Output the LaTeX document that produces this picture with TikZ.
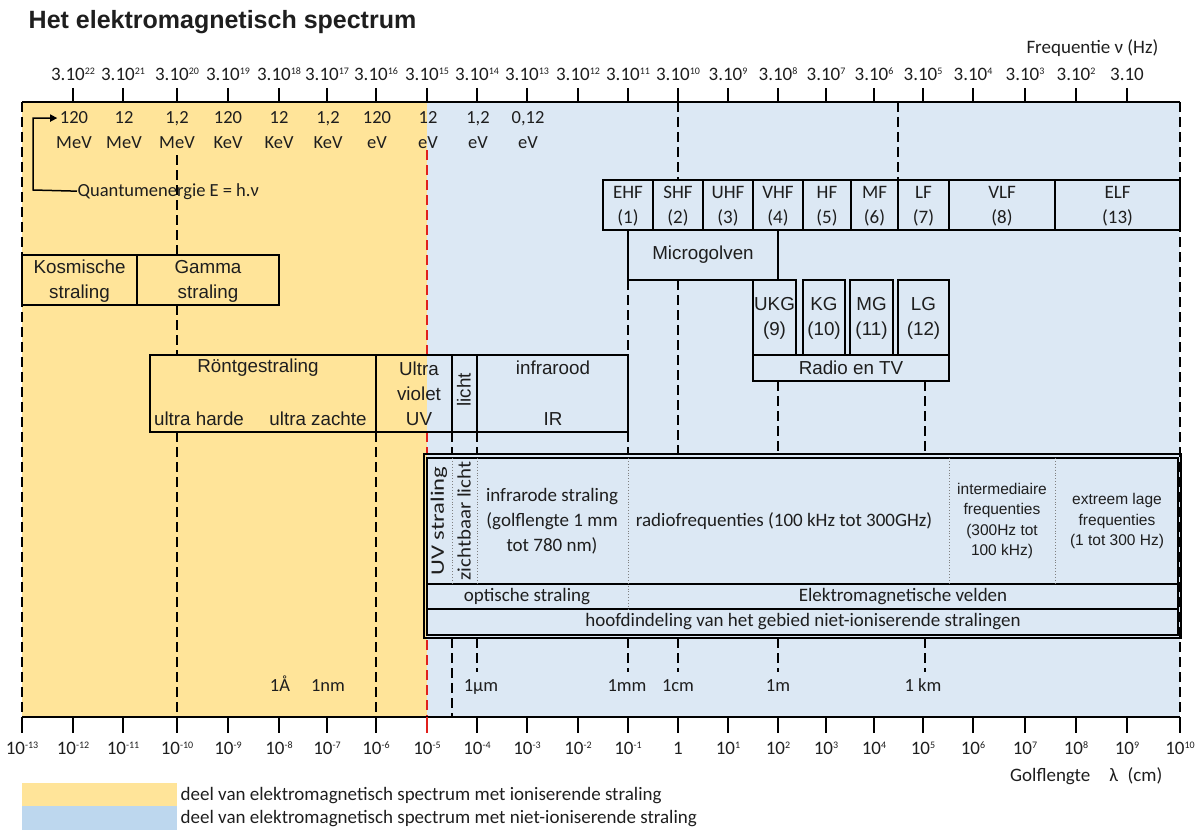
\documentclass[tikz,border=0pt]{standalone}
\usepackage{fontspec}
\usepackage{graphicx}
\usetikzlibrary{arrows.meta}
\setmainfont{Carlito}
\newfontfamily\arialfont{Liberation Sans}
\definecolor{ionyellow}{HTML}{FFE499}
\definecolor{nonblue}{HTML}{DCE8F4}
\definecolor{legblue}{HTML}{BDD7EE}
\definecolor{inkgray}{HTML}{1E1E1E}
\definecolor{redline}{HTML}{E0201C}
\newcommand\pw[1]{\raisebox{6pt}{\fontsize{10}{10}\selectfont #1}}

\tikzset{
	lab/.style={font=\fontsize{19}{25}\selectfont, align=center},
	nrg/.style={font=\fontsize{18.5}{24}\selectfont, anchor=base},
	axl/.style={font=\fontsize{19}{22}\selectfont, anchor=base},
	arl/.style={font=\arialfont\fontsize{18.8}{25}\selectfont, align=center},
	sml/.style={font=\arialfont\fontsize{15.5}{20.5}\selectfont, align=center},
	dsh/.style={dash pattern=on 10pt off 5pt, line width=1.3pt},
	bandbox/.style={line width=1.4pt},
}

\begin{document}
\begin{tikzpicture}[x=1pt, y=-1pt, line width=1.4pt, every node/.style={inner sep=0pt, text=inkgray}]
		
		\useasboundingbox (0,0) rectangle (1196,832);
		
		\fill[ionyellow] (22,102) rectangle (427,717);
		\fill[nonblue] (427,102) rectangle (1180,717);
		
		\node[anchor=west, font=\arialfont\bfseries\fontsize{25}{28}\selectfont] (title) at (28,22) {Het elektromagnetisch spectrum};
		\node[axl, anchor=base east] (freq) at (1159,54) {Frequentie ν (Hz)};
		\node[axl, anchor=base east] (golf) at (1163,781) {Golflengte\quad λ\enspace(cm)};
		
		% dashed guides
		\draw[dsh] (22,102) -- (22,717);
		\draw[dsh] (1180,102) -- (1180,717);
		\draw[dsh] (177,155) -- (177,255);
		\draw[dsh] (177,305) -- (177,355);
		\draw[dsh] (177,432) -- (177,717);
		\draw[dsh] (376,432) -- (376,717);
		\draw[dsh, redline] (427,150) -- (427,355);
		\draw[dsh, redline] (427,432) -- (427,453);
		\draw[dsh, redline] (427,640) -- (427,717);
		\draw[dsh] (452,432) -- (452,454);
		\draw[dsh] (452,638) -- (452,717);
		\draw[dsh] (477,432) -- (477,454);
		\draw[dsh] (477,638) -- (477,672);
		\draw[dsh] (628,280) -- (628,355);
		\draw[dsh] (628,432) -- (628,454);
		\draw[dsh] (628,638) -- (628,672);
		\draw[dsh] (678,102) -- (678,180);
		\draw[dsh] (678,280) -- (678,454);
		\draw[dsh] (678,638) -- (678,672);
		\draw[dsh] (778,381) -- (778,454);
		\draw[dsh] (778,638) -- (778,672);
		\draw[dsh] (898,102) -- (898,180);
		\draw[dsh] (925,381) -- (925,454);
		\draw[dsh] (925,638) -- (925,672);
		
		% frequency axis
		\draw (22,102) -- (1180,102);
		\draw (73,88) -- (73,102);
		\draw (123,88) -- (123,102);
		\draw (177,88) -- (177,102);
		\draw (228,88) -- (228,102);
		\draw (279,88) -- (279,102);
		\draw (327,88) -- (327,102);
		\draw (376,88) -- (376,102);
		\draw (427,88) -- (427,102);
		\draw (477,88) -- (477,102);
		\draw (527,88) -- (527,102);
		\draw (578,88) -- (578,102);
		\draw (628,88) -- (628,102);
		\draw (678,88) -- (678,102);
		\draw (728,88) -- (728,102);
		\draw (778,88) -- (778,102);
		\draw (826,88) -- (826,102);
		\draw (874,88) -- (874,102);
		\draw (923,88) -- (923,102);
		\draw (973,88) -- (973,102);
		\draw (1025,88) -- (1025,102);
		\draw (1076,88) -- (1076,102);
		\draw (1127,88) -- (1127,102);
		
		\node[axl] (f22) at (73,81) {3.10\pw{22}};
		\node[axl] (f21) at (123,81) {3.10\pw{21}};
		\node[axl] (f20) at (177,81) {3.10\pw{20}};
		\node[axl] (f19) at (228,81) {3.10\pw{19}};
		\node[axl] (f18) at (279,81) {3.10\pw{18}};
		\node[axl] (f17) at (327,81) {3.10\pw{17}};
		\node[axl] (f16) at (376,81) {3.10\pw{16}};
		\node[axl] (f15) at (427,81) {3.10\pw{15}};
		\node[axl] (f14) at (477,81) {3.10\pw{14}};
		\node[axl] (f13) at (527,81) {3.10\pw{13}};
		\node[axl] (f12) at (578,81) {3.10\pw{12}};
		\node[axl] (f11) at (628,81) {3.10\pw{11}};
		\node[axl] (f10) at (678,81) {3.10\pw{10}};
		\node[axl] (f9) at (728,81) {3.10\pw{9}};
		\node[axl] (f8) at (778,81) {3.10\pw{8}};
		\node[axl] (f7) at (826,81) {3.10\pw{7}};
		\node[axl] (f6) at (874,81) {3.10\pw{6}};
		\node[axl] (f5) at (923,81) {3.10\pw{5}};
		\node[axl] (f4) at (973,81) {3.10\pw{4}};
		\node[axl] (f3) at (1025,81) {3.10\pw{3}};
		\node[axl] (f2) at (1076,81) {3.10\pw{2}};
		\node[axl] (f1) at (1127,81) {3.10};
		
		% wavelength axis
		\draw (22,717) -- (1180,717);
		\draw (22,717) -- (22,733);
		\draw (73,717) -- (73,733);
		\draw (123,717) -- (123,733);
		\draw (177,717) -- (177,733);
		\draw (228,717) -- (228,733);
		\draw (279,717) -- (279,733);
		\draw (327,717) -- (327,733);
		\draw (376,717) -- (376,733);
		\draw[redline] (427,717) -- (427,733);
		\draw (477,717) -- (477,733);
		\draw (527,717) -- (527,733);
		\draw (578,717) -- (578,733);
		\draw (628,717) -- (628,733);
		\draw (678,717) -- (678,733);
		\draw (728,717) -- (728,733);
		\draw (778,717) -- (778,733);
		\draw (826,717) -- (826,733);
		\draw (874,717) -- (874,733);
		\draw (923,717) -- (923,733);
		\draw (973,717) -- (973,733);
		\draw (1025,717) -- (1025,733);
		\draw (1076,717) -- (1076,733);
		\draw (1127,717) -- (1127,733);
		\draw (1180,717) -- (1180,733);
		
		\node[axl] (w13) at (22,754) {10\pw{-13}};
		\node[axl] (w12) at (73,754) {10\pw{-12}};
		\node[axl] (w11) at (123,754) {10\pw{-11}};
		\node[axl] (w10) at (177,754) {10\pw{-10}};
		\node[axl] (w9) at (228,754) {10\pw{-9}};
		\node[axl] (w8) at (279,754) {10\pw{-8}};
		\node[axl] (w7) at (327,754) {10\pw{-7}};
		\node[axl] (w6) at (376,754) {10\pw{-6}};
		\node[axl] (w5) at (427,754) {10\pw{-5}};
		\node[axl] (w4) at (477,754) {10\pw{-4}};
		\node[axl] (w3) at (527,754) {10\pw{-3}};
		\node[axl] (w2) at (578,754) {10\pw{-2}};
		\node[axl] (w1) at (628,754) {10\pw{-1}};
		\node[axl] (p0) at (678,754) {1};
		\node[axl] (p1) at (728,754) {10\pw{1}};
		\node[axl] (p2) at (778,754) {10\pw{2}};
		\node[axl] (p3) at (826,754) {10\pw{3}};
		\node[axl] (p4) at (874,754) {10\pw{4}};
		\node[axl] (p5) at (923,754) {10\pw{5}};
		\node[axl] (p6) at (973,754) {10\pw{6}};
		\node[axl] (p7) at (1025,754) {10\pw{7}};
		\node[axl] (p8) at (1076,754) {10\pw{8}};
		\node[axl] (p9) at (1127,754) {10\pw{9}};
		\node[axl] (p10) at (1180,754) {10\pw{10}};
		
		% quantum energies
		\node[nrg] (e1) at (74,124) {120};
		\node[nrg] (e2) at (124,124) {12};
		\node[nrg] (e3) at (177,124) {1,2};
		\node[nrg] (e4) at (228,124) {120};
		\node[nrg] (e5) at (279,124) {12};
		\node[nrg] (e6) at (328,124) {1,2};
		\node[nrg] (e7) at (377,124) {120};
		\node[nrg] (e8) at (428,124) {12};
		\node[nrg] (e9) at (478,124) {1,2};
		\node[nrg] (e10) at (528,124) {0,12};
		\node[nrg] (u1) at (74,149) {MeV};
		\node[nrg] (u2) at (124,149) {MeV};
		\node[nrg] (u3) at (177,149) {MeV};
		\node[nrg] (u4) at (228,149) {KeV};
		\node[nrg] (u5) at (279,149) {KeV};
		\node[nrg] (u6) at (328,149) {KeV};
		\node[nrg] (u7) at (377,149) {eV};
		\node[nrg] (u8) at (428,149) {eV};
		\node[nrg] (u9) at (478,149) {eV};
		\node[nrg] (u10) at (528,149) {eV};
		
		\node[nrg, anchor=base west] (qe) at (77,196) {Quantumenergie E = h.ν};
		\draw[-{Triangle[length=7pt,width=7pt]}, line width=1.5pt, shorten >=2pt] (qe.west) -- (33,190) |- (e1.west);
		
		% ionising groups
		\draw[bandbox] (22,255) rectangle (279,305);
		\draw[bandbox] (137,255) -- (137,305);
		\node[arl] (kos) at (79.5,281) {Kosmische\\straling};
		\node[arl] (gam) at (208,281) {Gamma\\straling};
		
		\draw[bandbox] (150,355) rectangle (628,432);
		\draw[bandbox] (376,355) -- (376,432);
		\draw[bandbox] (452,355) -- (452,432);
		\draw[bandbox] (477,355) -- (477,432);
		\node[arl] (ront) at (258,368) {Röntgestraling};
		\node[arl] (hard) at (199,419) {ultra harde};
		\node[arl] (zacht) at (318,419) {ultra zachte};
		\node[arl] (uv) at (419,394) {Ultra\\violet\\UV};
		\node[arl, rotate=90] (licht) at (464,390) {licht};
		\node[arl] (ir) at (553,368) {infrarood};
		\node[arl] (irb) at (553,419) {IR};
		
		% frequency bands
		\draw[bandbox] (603,180) rectangle (1180,230);
		\draw[bandbox] (653,180) -- (653,230);
		\draw[bandbox] (703,180) -- (703,230);
		\draw[bandbox] (753,180) -- (753,230);
		\draw[bandbox] (803,180) -- (803,230);
		\draw[bandbox] (851,180) -- (851,230);
		\draw[bandbox] (898,180) -- (898,230);
		\draw[bandbox] (949,180) -- (949,230);
		\draw[bandbox] (1055,180) -- (1055,230);
		\node[lab] (ehf) at (628,206) {EHF\\(1)};
		\node[lab] (shf) at (678,206) {SHF\\(2)};
		\node[lab] (uhf) at (728,206) {UHF\\(3)};
		\node[lab] (vhf) at (778,206) {VHF\\(4)};
		\node[lab] (hf) at (827,206) {HF\\(5)};
		\node[lab] (mf) at (874.5,206) {MF\\(6)};
		\node[lab] (lf) at (923.5,206) {LF\\(7)};
		\node[lab] (vlf) at (1002,206) {VLF\\(8)};
		\node[lab] (elf) at (1117.5,206) {ELF\\(13)};
		
		\draw[bandbox] (628,230) rectangle (778,280);
		\node[arl] (micro) at (703,255) {Microgolven};
		
		\draw[bandbox] (753,280) rectangle (796,355);
		\draw[bandbox] (803,280) rectangle (845,355);
		\draw[bandbox] (850,280) rectangle (893,355);
		\draw[bandbox] (898,280) rectangle (949,355);
		\draw[bandbox] (753,355) rectangle (949,381);
		\node[arl] (ukg) at (774.5,318) {UKG\\(9)};
		\node[arl] (kg) at (824,318) {KG\\(10)};
		\node[arl] (mg) at (871.5,318) {MG\\(11)};
		\node[arl] (lg) at (923.5,318) {LG\\(12)};
		\node[arl] (radio) at (851,368) {Radio en TV};
		
		% non-ionising overview
		\draw[line width=1.2pt] (424,454) rectangle (1181,638);
		\draw[line width=1.2pt] (427,458) rectangle (1178,635);
		\draw[line width=1.2pt] (427,584) -- (1178,584);
		\draw[line width=1.2pt] (427,609) -- (1178,609);
		\draw[dotted, line width=0.9pt, gray] (452,458) -- (452,584);
		\draw[dotted, line width=0.9pt, gray] (477,458) -- (477,584);
		\draw[dotted, line width=0.9pt, gray] (628,458) -- (628,609);
		\draw[dotted, line width=0.9pt, gray] (949,458) -- (949,584);
		\draw[dotted, line width=0.9pt, gray] (1055,458) -- (1055,584);
		
		\node[lab, rotate=90] (uvs) at (439,521) {\scalebox{1.3}[1]{UV straling}};
		\node[lab, rotate=90] (zicht) at (464,521) {\scalebox{1.1}[1]{zichtbaar licht}};
		\node[lab] (irs) at (552,521) {infrarode straling\\(golflengte 1 mm\\tot 780 nm)};
		\node[lab] (rf) at (784,521) {radiofrequenties (100 kHz tot 300GHz)};
		\node[sml] (imf) at (1002,521) {intermediaire\\frequenties\\(300Hz tot\\100 kHz)};
		\node[sml] (elfs) at (1117,521) {extreem lage\\frequenties\\(1 tot 300 Hz)};
		\node[lab] (opt) at (527,597) {optische straling};
		\node[lab] (emv) at (903,597) {Elektromagnetische velden};
		\node[lab] (hoofd) at (803,622) {hoofdindeling van het gebied niet-ioniserende stralingen};
		
		% length marks
		\node[nrg] (ang) at (280,691) {1Å};
		\node[nrg] (nm) at (328,691) {1nm};
		\node[nrg] (um) at (481,691) {1µm};
		\node[nrg] (mm) at (627,691) {1mm};
		\node[nrg] (cm) at (678,691) {1cm};
		\node[nrg] (m) at (778,691) {1m};
		\node[nrg] (km) at (923,691) {1 km};
		
		% legend
		\fill[ionyellow] (22,783) rectangle (177,806);
		\fill[legblue] (22,806) rectangle (177,830);
		\node[lab, anchor=west] (legion) at (180,796) {deel van elektromagnetisch spectrum met ioniserende straling};
		\node[lab, anchor=west] (legnon) at (180,819) {deel van elektromagnetisch spectrum met niet-ioniserende straling};
		
	\end{tikzpicture}
\end{document}
